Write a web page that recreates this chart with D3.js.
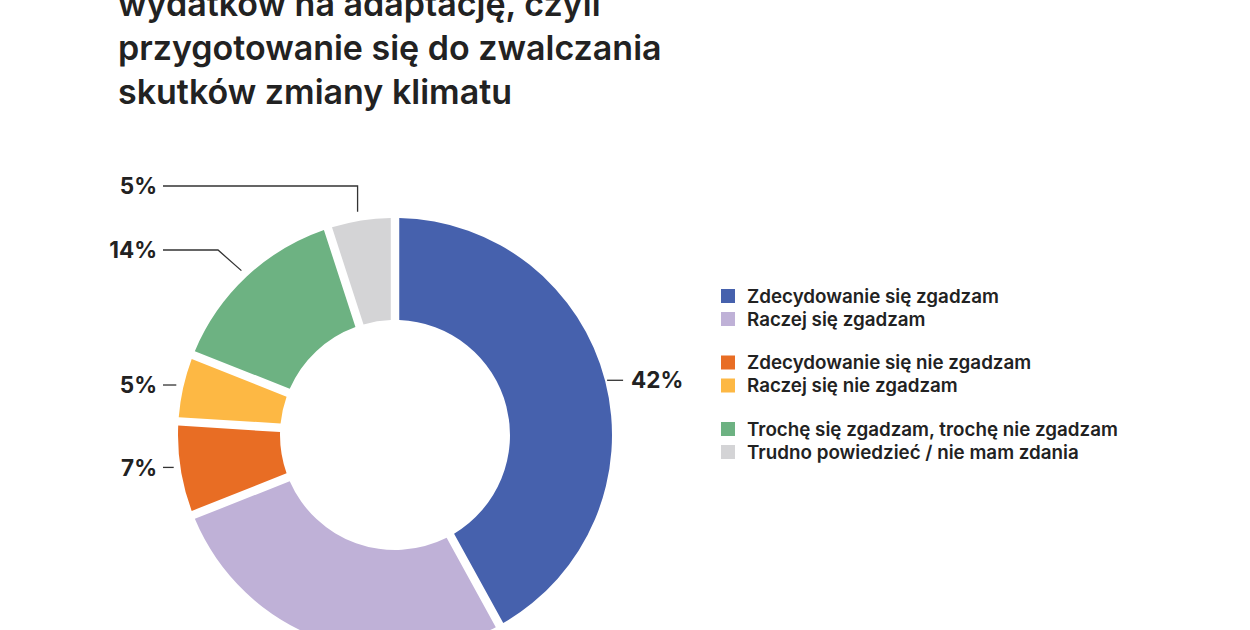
<!DOCTYPE html>
<html>
<head>
<meta charset="utf-8">
<script src="https://cdn.jsdelivr.net/npm/d3@7"></script>
<style>
  body { margin: 0; background: #fff; }
  svg { display: block; font-family: Inter, "Noto Sans", sans-serif; }
</style>
</head>
<body>
<div id="chart"></div>
<script>
// dane z wykresu
var kategorie = [
  "Zdecydowanie się zgadzam",
  "Raczej się zgadzam",
  "Zdecydowanie się nie zgadzam",
  "Raczej się nie zgadzam",
  "Trochę się zgadzam, trochę nie zgadzam",
  "Trudno powiedzieć / nie mam zdania"
];
var wartosci = [42, 27, 7, 5, 14, 5];
var kolory = ["#4661ad", "#bfb1d7", "#e86d24", "#fdb844", "#6db282", "#d4d4d6"];
var tytul = [
  "wydatków na adaptację, czyli",
  "przygotowanie się do zwalczania",
  "skutków zmiany klimatu"
];
// odstepy w legendzie (grupy po dwa)
var grupyLegendy = [0, 0, 1, 1, 2, 2];

var svg = d3.select("#chart")
  .append("svg")
  .attr("width", 1250)
  .attr("height", 630);

// tytul
svg.append("g")
  .selectAll("text")
  .data(tytul)
  .join("text")
  .attr("x", 118)
  .attr("y", (d, i) => 16 + i * 44)
  .attr("fill", "#222")
  .attr("font-size", 34)
  .attr("font-weight", 600)
  .text(d => d);

var cx = 395, cy = 435, R = 217, r = 115;

var pie = d3.pie().sort(null).value(d => d.v);
var dane = wartosci.map((v, i) => ({ v: v, k: kategorie[i], c: kolory[i] }));
var luki = pie(dane);

var arc = d3.arc()
  .innerRadius(r)
  .outerRadius(R)
  .padAngle(0.05)
  .padRadius(170);

var g = svg.append("g").attr("transform", "translate(" + cx + "," + cy + ")");

g.selectAll("path")
  .data(luki)
  .join("path")
  .attr("d", arc)
  .attr("fill", d => d.data.c);

// etykiety z liniami
var linie = svg.append("g").attr("fill", "none").attr("stroke", "#333").attr("stroke-width", 1.3);
var etykiety = svg.append("g");

function punkt(d, rad) {
  var a = (d.startAngle + d.endAngle) / 2;
  return [cx + rad * Math.sin(a), cy - rad * Math.cos(a)];
}

var labelX = 157;

luki.forEach(function(d, i) {
  var p = punkt(d, R + 3);
  var tekst = d.data.v + "%";
  var pts, tx, anchor, ty;
  if (i === 0) {
    pts = [[p[0] - 1, p[1]], [p[0] + 15, p[1]]];
    tx = p[0] + 23; ty = p[1]; anchor = "start";
  } else if (i === 1) {
    return; // etykieta poza kadrem
  } else if (i === 5) {
    // linia pionowa do gory
    pts = [[p[0] - 3, p[1] - 6], [p[0] - 3, 186], [labelX + 6, 186]];
    tx = labelX; ty = 186; anchor = "end";
  } else if (i === 4) {
    pts = [[p[0] - 3, p[1] - 4], [218, 250], [labelX + 6, 250]];
    tx = labelX; ty = 250; anchor = "end";
  } else {
    pts = [[p[0] - 4, p[1] - 2], [labelX + 6, p[1] - 2]];
    tx = labelX; ty = p[1] - 2; anchor = "end";
  }
  linie.append("path").attr("d", d3.line()(pts));
  etykiety.append("text")
    .attr("x", tx)
    .attr("y", ty)
    .attr("dy", "0.36em")
    .attr("text-anchor", anchor)
    .attr("font-size", 22.5)
    .attr("font-weight", 700)
    .attr("fill", "#222")
    .text(tekst);
});

// legenda
var leg = svg.append("g").attr("transform", "translate(721,296)");
var wiersze = leg.selectAll("g")
  .data(dane)
  .join("g")
  .attr("transform", (d, i) => "translate(0," + (i * 23 + grupyLegendy[i] * 20.5) + ")");

wiersze.append("rect")
  .attr("x", 0)
  .attr("y", -7)
  .attr("width", 14)
  .attr("height", 14)
  .attr("fill", d => d.c);

wiersze.append("text")
  .attr("x", 26)
  .attr("dy", "0.36em")
  .attr("font-size", 18.8)
  .attr("font-weight", 600)
  .attr("fill", "#222")
  .text(d => d.k);
</script>
</body>
</html>
